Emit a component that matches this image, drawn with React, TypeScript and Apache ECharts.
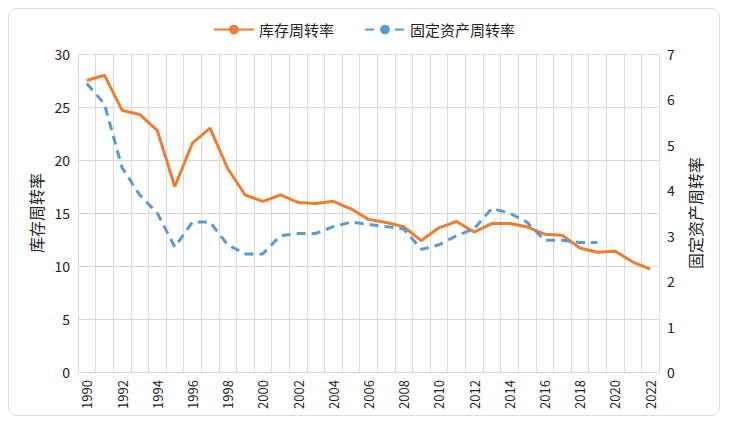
import { useEffect, useRef } from 'react'
import * as echarts from 'echarts'

const years = Array.from({ length: 33 }, (_, i) => String(1990 + i))
const inventoryTurnover = [27.5, 28, 24.7, 24.3, 22.8, 17.5, 21.6, 23, 19.2, 16.7, 16.1, 16.7, 16, 15.9, 16.1, 15.4, 14.4, 14.1, 13.7, 12.4, 13.6, 14.2, 13.2, 14, 14, 13.7, 13, 12.9, 11.7, 11.3, 11.4, 10.4, 9.7]
const fixedAssetTurnover = [6.35, 5.9, 4.5, 3.9, 3.5, 2.75, 3.3, 3.3, 2.8, 2.6, 2.6, 3.0, 3.05, 3.05, 3.2, 3.3, 3.25, 3.2, 3.15, 2.7, 2.8, 3.0, 3.15, 3.6, 3.5, 3.3, 2.9, 2.9, 2.85, 2.85]

export default function App() {
  const chartRef = useRef<HTMLDivElement>(null)

  useEffect(() => {
    if (!chartRef.current) return
    const chart = echarts.init(chartRef.current, null, { renderer: 'svg' })
    const font = '"Noto Sans CJK SC", "DejaVu Sans", sans-serif'
    chart.setOption({
      animation: false,
      textStyle: { fontFamily: font },
      legend: {
        top: 8,
        itemWidth: 40,
        itemHeight: 12,
        itemGap: 30,
        textStyle: { fontSize: 15, color: '#222' },
        data: ['库存周转率', '固定资产周转率'],
      },
      grid: { left: 69, right: 60, top: 45, bottom: 43 },
      xAxis: {
        type: 'category',
        data: years,
        axisTick: { show: false },
        axisLine: { lineStyle: { color: '#d9d9d9' } },
        splitLine: { show: true, interval: 0, lineStyle: { color: '#d9d9d9' } },
        axisLabel: { rotate: 90, interval: 1, color: '#222', fontSize: 13 },
      },
      yAxis: [
        {
          type: 'value', min: 0, max: 30, interval: 5,
          name: '库存周转率', nameLocation: 'middle', nameGap: 30, nameRotate: 90,
          nameTextStyle: { fontSize: 16, color: '#222' },
          axisLabel: { fontSize: 14, color: '#222' },
          splitLine: { lineStyle: { color: '#d9d9d9' } },
        },
        {
          type: 'value', min: 0, max: 7, interval: 1,
          name: '固定资产周转率', nameLocation: 'middle', nameGap: 28, nameRotate: 90,
          nameTextStyle: { fontSize: 16, color: '#222' },
          axisLabel: { fontSize: 14, color: '#222' },
          splitLine: { show: false },
        },
      ],
      series: [
        {
          name: '库存周转率', type: 'line', data: inventoryTurnover, showSymbol: false, symbol: 'none',
          lineStyle: { color: '#ed7d31', width: 3 }, itemStyle: { color: '#ed7d31' },
        },
        {
          name: '固定资产周转率', type: 'line', yAxisIndex: 1, data: fixedAssetTurnover, showSymbol: false, symbol: 'none',
          lineStyle: { color: '#5b9bd5', width: 3, type: [9, 6] }, itemStyle: { color: '#5b9bd5' },
        },
      ],
    })
    return () => chart.dispose()
  }, [])

  return (
    <div ref={chartRef} style={{ width: 712, height: 408, border: '1px solid #ddd', borderRadius: 8, boxSizing: 'border-box' }} />
  )
}
